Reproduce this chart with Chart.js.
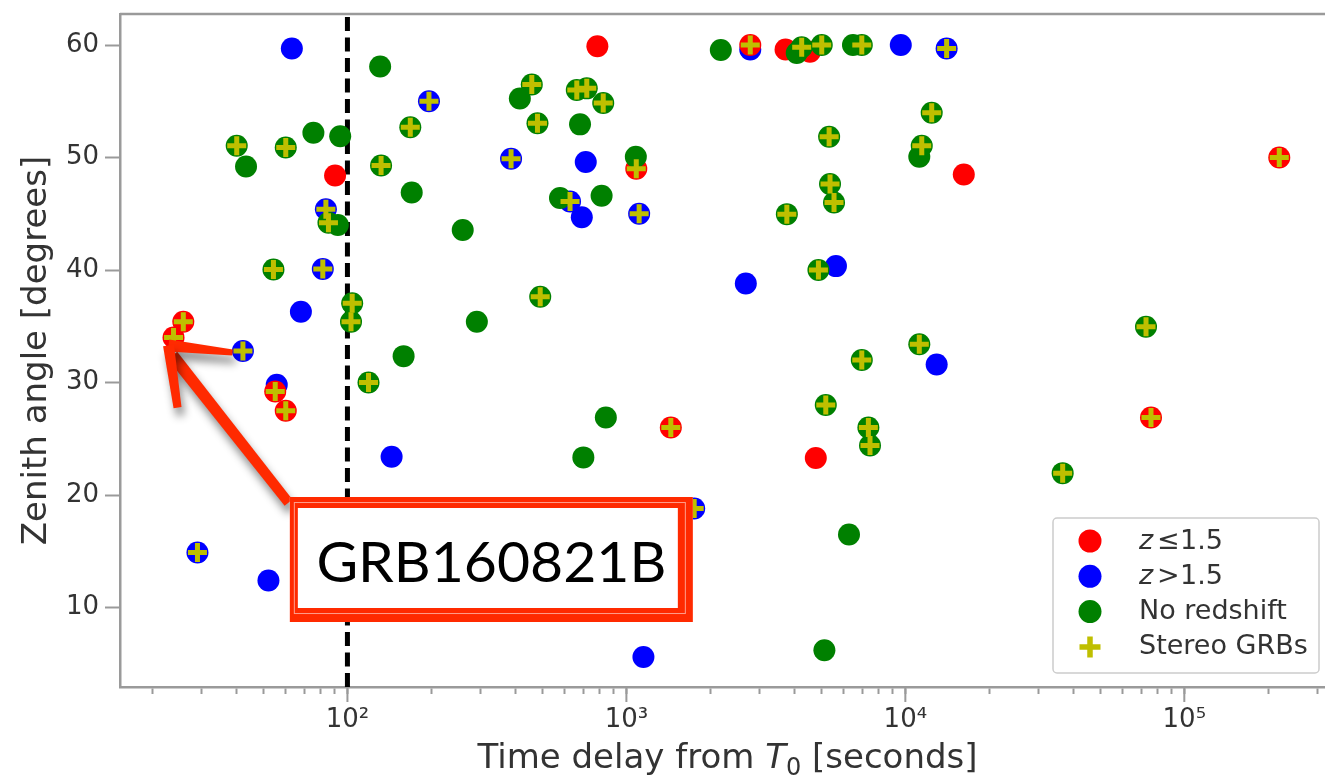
<!DOCTYPE html>
<html>
<head>
<meta charset="utf-8">
<title>Zenith angle vs time delay</title>
<script src="https://cdn.jsdelivr.net/npm/chart.js@4.4.1/dist/chart.umd.min.js"></script>
<style>
    html, body { margin: 0; padding: 0; background: #fff; overflow: hidden; }
    #wrap { width: 1345px; height: 777px; }
</style>
</head>
<body>
<div id="wrap"><canvas id="zenithChart" width="1345" height="777"></canvas></div>
<script>
/* ========================================
   Zenith angle vs. time delay of GRB follow-ups
   ======================================== */

// z <= 1.5 : time delay from T0 [s], zenith angle [deg], stereo flag
const lowZTime   = [90.3, 787, 2780, 3720, 4550, 1085, 16200, 219000, 25.8, 23.8, 55.1, 60.1, 1443, 75960, 4775];
const lowZAngle  = [48.4, 59.9, 60.0, 59.6, 59.4, 49.0, 48.5, 50.0, 35.4, 34.0, 29.2, 27.5, 26.0, 26.9, 23.3];
const lowZStereo = [0, 0, 1, 0, 0, 1, 0, 1, 1, 1, 1, 1, 1, 1, 0];

// z > 1.5
const highZTime   = [63.2, 196, 83.7, 81.6, 68.1, 42.2, 55.8, 144, 29.0, 52.1, 2780, 9630, 14060,
                     386, 715, 628, 692, 1111, 2680, 5640, 12950, 1750, 1151];
const highZAngle  = [59.7, 55.0, 45.4, 40.1, 36.3, 32.8, 29.8, 23.4, 14.9, 12.4, 59.6, 60.0, 59.7,
                     49.9, 49.6, 46.1, 44.7, 45.0, 38.8, 40.35, 31.6, 18.8, 5.6];
const highZStereo = [0, 1, 1, 1, 0, 1, 0, 0, 1, 0, 0, 0, 1,
                     1, 0, 1, 0, 1, 0, 0, 0, 1, 0];

// no measured redshift
const noZTime   = [131, 168, 75.5, 94.2, 40.1, 60.1, 43.3, 132, 170, 85.5,
                   92.4, 54.3, 104, 103, 159, 119, 89, 2180, 4080, 4250,
                   5015, 6490, 6980, 458, 415, 664, 721, 826, 480, 682,
                   5330, 1081, 578, 815, 259, 5370, 5550, 3760, 4880, 491,
                   291, 12430, 11450, 11220, 72900, 11220, 6980, 844, 701, 5185,
                   7370, 7470, 6280, 5126, 36640];
const noZAngle  = [58.1, 52.7, 52.2, 51.9, 51.05, 50.9, 49.2, 49.3, 46.9, 44.2,
                   44.0, 40.05, 37.05, 35.4, 32.35, 30.0, 9.7, 59.56, 59.3, 59.8,
                   60.0, 60.0, 60.0, 56.5, 55.25, 56.0, 56.15, 54.85, 53.05, 52.95,
                   51.85, 50.07, 46.4, 46.6, 43.56, 47.65, 46.0, 44.97, 40.0, 37.63,
                   35.4, 53.98, 51.05, 50.07, 34.96, 33.4, 32.0, 26.9, 23.35, 28.0,
                   26.0, 24.4, 16.5, 6.2, 21.95];
const noZStereo = [0, 1, 0, 0, 1, 1, 0, 1, 0, 1,
                   0, 1, 1, 1, 0, 1, 1, 0, 0, 1,
                   1, 0, 1, 1, 0, 1, 1, 1, 1, 0,
                   1, 0, 0, 0, 0, 1, 1, 1, 1, 1,
                   0, 1, 1, 0, 1, 1, 1, 0, 0, 1,
                   1, 1, 0, 0, 1];

// axes
const angleTicks   = [10, 20, 30, 40, 50, 60];
const decadeTicks  = [100, 1000, 10000, 100000];
const decadeLabels = ['10²', '10³', '10⁴', '10⁵'];
const minorSteps   = [2, 3, 4, 5, 6, 7, 8, 9];
const timeRange    = [15.3, 346900];
const angleRange   = [2.94, 62.76];

// vertical marker and the labelled burst
const cutoffTime   = 100;
const calloutLabel = 'GRB160821B';
const calloutIndex = 9;          // position in the lowZ arrays
const calloutTime  = 328;        // centre of the text box
const calloutAngle = 14.27;

const FONT  = "'DejaVu Sans', 'Liberation Sans', sans-serif";
const INK   = '#333333';
const SPINE = '#9a9a9a';
const PEN   = '#ff2a00';

function toPoints(times, angles) {
    return times.map((t, i) => ({ x: t, y: angles[i] }));
}

function stereoPoints() {
    const pts = [];
    [[lowZTime, lowZAngle, lowZStereo],
     [highZTime, highZAngle, highZStereo],
     [noZTime, noZAngle, noZStereo]].forEach(([t, a, s]) => {
        t.forEach((v, i) => { if (s[i]) pts.push({ x: v, y: a[i] }); });
    });
    return pts;
}

function circleSet(label, times, angles, color, order) {
    return {
        label: label,
        data: toPoints(times, angles),
        pointStyle: 'circle',
        pointRadius: 11,
        pointBackgroundColor: color,
        pointBorderColor: color,
        pointBorderWidth: 0,
        order: order
    };
}

// dashed line at T0 + 100 s, under the markers
const cutoffLinePlugin = {
    id: 'cutoffLine',
    beforeDatasetsDraw(chart) {
        const { ctx, chartArea } = chart;
        const x = chart.scales.x.getPixelForValue(cutoffTime);
        ctx.save();
        ctx.strokeStyle = '#000';
        ctx.lineWidth = 5;
        ctx.setLineDash([14, 6.5]);
        ctx.beginPath();
        ctx.moveTo(x, chartArea.bottom);
        ctx.lineTo(x, chartArea.top);
        ctx.stroke();
        ctx.restore();
    }
};

// top spine, long decade ticks and the x title with T0 in math style
const framePlugin = {
    id: 'frame',
    afterDraw(chart) {
        const { ctx, chartArea } = chart;
        const xs = chart.scales.x;
        ctx.save();
        ctx.strokeStyle = SPINE;
        ctx.lineWidth = 2.5;
        ctx.beginPath();
        ctx.moveTo(chartArea.left, chartArea.top);
        ctx.lineTo(chartArea.right, chartArea.top);
        ctx.lineTo(chartArea.right, chartArea.bottom);
        ctx.stroke();

        ctx.lineWidth = 2;
        decadeTicks.forEach(v => {
            const x = xs.getPixelForValue(v);
            ctx.beginPath();
            ctx.moveTo(x, chartArea.bottom);
            ctx.lineTo(x, chartArea.bottom + 15);
            ctx.stroke();
        });

        const parts = [
            { text: 'Time delay from ', font: `34px ${FONT}`, dy: 0 },
            { text: 'T', font: `italic 34px ${FONT}`, dy: 0 },
            { text: '0', font: `24px ${FONT}`, dy: 7 },
            { text: ' [seconds]', font: `34px ${FONT}`, dy: 0 }
        ];
        let total = 0;
        parts.forEach(p => { ctx.font = p.font; p.w = ctx.measureText(p.text).width; total += p.w; });
        let x = (chartArea.left + chartArea.right) / 2 - total / 2;
        const baseline = chartArea.bottom + 81;
        ctx.fillStyle = INK;
        ctx.textBaseline = 'alphabetic';
        ctx.textAlign = 'left';
        parts.forEach(p => {
            ctx.font = p.font;
            ctx.fillText(p.text, x, baseline + p.dy);
            x += p.w;
        });
        ctx.restore();
    }
};

function drawLegendLabel(ctx, text, x, y) {
    ctx.fillStyle = INK;
    ctx.textBaseline = 'middle';
    ctx.textAlign = 'left';
    if (text.startsWith('z ')) {
        // italic variable, relation sign, value
        const [, rel, val] = text.split(' ');
        ctx.font = `italic 27px ${FONT}`;
        ctx.fillText('z', x, y);
        ctx.font = `27px ${FONT}`;
        ctx.fillText(rel, x + 18, y);
        ctx.fillText(val, x + 41, y);
    } else {
        ctx.font = `27px ${FONT}`;
        ctx.fillText(text, x, y);
    }
}

const cornerLegendPlugin = {
    id: 'cornerLegend',
    afterDatasetsDraw(chart) {
        const { ctx, chartArea } = chart;
        const w = 266, h = 155;
        const x0 = chartArea.right - 16 - w;
        const y0 = chartArea.bottom - 14 - h;
        ctx.save();
        ctx.beginPath();
        ctx.roundRect(x0, y0, w, h, 4);
        ctx.fillStyle = 'rgba(255,255,255,0.8)';
        ctx.fill();
        ctx.strokeStyle = '#cccccc';
        ctx.lineWidth = 1.5;
        ctx.stroke();

        chart.data.datasets.forEach((ds, i) => {
            const mx = x0 + 37;
            const my = y0 + 23 + i * 35.3;
            if (ds.pointStyle === 'cross') {
                ctx.strokeStyle = ds.pointBorderColor;
                ctx.lineWidth = 5.5;
                ctx.beginPath();
                ctx.moveTo(mx - 10.5, my); ctx.lineTo(mx + 10.5, my);
                ctx.moveTo(mx, my - 10.5); ctx.lineTo(mx, my + 10.5);
                ctx.stroke();
            } else {
                ctx.fillStyle = ds.pointBackgroundColor;
                ctx.beginPath();
                ctx.arc(mx, my, 11.5, 0, Math.PI * 2);
                ctx.fill();
            }
            drawLegendLabel(ctx, ds.label, x0 + 86, my + 0.5);
        });
        ctx.restore();
    }
};

// tapered pen stroke
function wedge(ctx, x1, y1, x2, y2, w1, w2) {
    const len = Math.hypot(x2 - x1, y2 - y1);
    const nx = -(y2 - y1) / len, ny = (x2 - x1) / len;
    ctx.beginPath();
    ctx.moveTo(x1 + nx * w1, y1 + ny * w1);
    ctx.lineTo(x2 + nx * w2, y2 + ny * w2);
    ctx.lineTo(x2 - nx * w2, y2 - ny * w2);
    ctx.lineTo(x1 - nx * w1, y1 - ny * w1);
    ctx.closePath();
    ctx.fill();
}

const calloutPlugin = {
    id: 'callout',
    afterDraw(chart) {
        const { ctx } = chart;
        const xs = chart.scales.x, ys = chart.scales.y;
        const tipX = xs.getPixelForValue(lowZTime[calloutIndex]) - 5;
        const tipY = ys.getPixelForValue(lowZAngle[calloutIndex]) + 8;
        const cx = xs.getPixelForValue(calloutTime);
        const cy = ys.getPixelForValue(calloutAngle);

        // arrow with a soft drop shadow
        ctx.save();
        ctx.fillStyle = PEN;
        ctx.shadowColor = 'rgba(0,0,0,0.45)';
        ctx.shadowBlur = 9;
        ctx.shadowOffsetX = 3;
        ctx.shadowOffsetY = 8;
        wedge(ctx, tipX + 4, tipY + 10, tipX + 120, tipY + 157, 6, 5);
        wedge(ctx, tipX, tipY, tipX + 64, tipY + 7, 6, 3);
        wedge(ctx, tipX, tipY, tipX + 9, tipY + 62, 5.5, 4);
        ctx.restore();

        // white box with a thick marker outline
        const ox1 = cx - 201.5, ox2 = cx + 201.5, oy1 = cy - 62.5, oy2 = cy + 62.5;
        const ix1 = cx - 193.5, ix2 = cx + 186.5, iy1 = cy - 51.5, iy2 = cy + 48.5;
        ctx.save();
        ctx.fillStyle = '#fff';
        ctx.fillRect(ox1, oy1, ox2 - ox1, oy2 - oy1);
        ctx.beginPath();
        ctx.rect(ox1, oy1, ox2 - ox1, oy2 - oy1);
        ctx.rect(ix1, iy1, ix2 - ix1, iy2 - iy1);
        ctx.fillStyle = PEN;
        ctx.fill('evenodd');
        ctx.strokeStyle = 'rgba(255,255,255,0.55)';
        ctx.lineWidth = 1;
        ctx.strokeRect(ox1 + 4.5, oy1 + 5.5, ox2 - ox1 - 12, oy2 - oy1 - 14);

        let size = 62;
        ctx.font = `${size}px Lato, 'Open Sans', sans-serif`;
        size = Math.max(52, Math.min(68, size * 350 / ctx.measureText(calloutLabel).width));
        ctx.font = `${size}px Lato, 'Open Sans', sans-serif`;
        ctx.fillStyle = '#000';
        ctx.textAlign = 'center';
        ctx.textBaseline = 'alphabetic';
        ctx.fillText(calloutLabel, cx, cy + 22.5);
        ctx.restore();
    }
};

function buildTimeTicks() {
    const ticks = [];
    [10, 100, 1000, 10000, 100000].forEach(d => {
        if (decadeTicks.includes(d)) ticks.push({ value: d, major: true });
        minorSteps.forEach(s => ticks.push({ value: d * s, major: false }));
    });
    return ticks.filter(t => t.value >= timeRange[0] && t.value <= timeRange[1]);
}

Chart.defaults.font.family = FONT;

new Chart(document.getElementById('zenithChart'), {
    type: 'scatter',
    data: {
        datasets: [
            circleSet('z ≤ 1.5', lowZTime, lowZAngle, '#ff0000', 2),
            circleSet('z > 1.5', highZTime, highZAngle, '#0000ff', 3),
            circleSet('No redshift', noZTime, noZAngle, '#008000', 1),
            {
                label: 'Stereo GRBs',
                data: stereoPoints(),
                pointStyle: 'cross',
                pointRadius: 9.5,
                pointBorderColor: '#bfbf00',
                pointBackgroundColor: '#bfbf00',
                pointBorderWidth: 5,
                order: 0
            }
        ]
    },
    options: {
        responsive: false,
        devicePixelRatio: 1,
        animation: false,
        events: [],
        layout: { autoPadding: false, padding: { top: 14, right: 10, bottom: 0, left: 0 } },
        plugins: {
            legend: { display: false },
            tooltip: { enabled: false }
        },
        scales: {
            x: {
                type: 'logarithmic',
                position: 'bottom',
                min: timeRange[0],
                max: timeRange[1],
                afterBuildTicks: scale => { scale.ticks = buildTimeTicks(); },
                afterFit: scale => {
                    scale.height = 90;
                    scale.paddingLeft = 0; scale.paddingRight = 0;
                },
                grid: { display: true, drawOnChartArea: false, tickLength: 7, tickWidth: 2, tickColor: SPINE },
                border: { display: true, color: SPINE, width: 2.5 },
                ticks: {
                    autoSkip: false,
                    maxRotation: 0,
                    padding: 11,
                    color: INK,
                    font: { size: 26 },
                    callback: value => {
                        const i = decadeTicks.indexOf(value);
                        return i >= 0 ? decadeLabels[i] : '';
                    }
                }
            },
            y: {
                min: angleRange[0],
                max: angleRange[1],
                afterBuildTicks: scale => { scale.ticks = angleTicks.map(v => ({ value: v })); },
                afterFit: scale => {
                    scale.width = 120;
                    scale.paddingTop = 0; scale.paddingBottom = 0;
                },
                grid: { display: true, drawOnChartArea: false, tickLength: 15, tickWidth: 2, tickColor: SPINE },
                border: { display: true, color: SPINE, width: 2.5 },
                ticks: { padding: 6, color: INK, font: { size: 26 } },
                title: {
                    display: true,
                    text: 'Zenith angle [degrees]',
                    color: INK,
                    font: { size: 34 },
                    padding: { top: 17, bottom: 0 }
                }
            }
        }
    },
    plugins: [cutoffLinePlugin, framePlugin, cornerLegendPlugin, calloutPlugin]
});
</script>
</body>
</html>
